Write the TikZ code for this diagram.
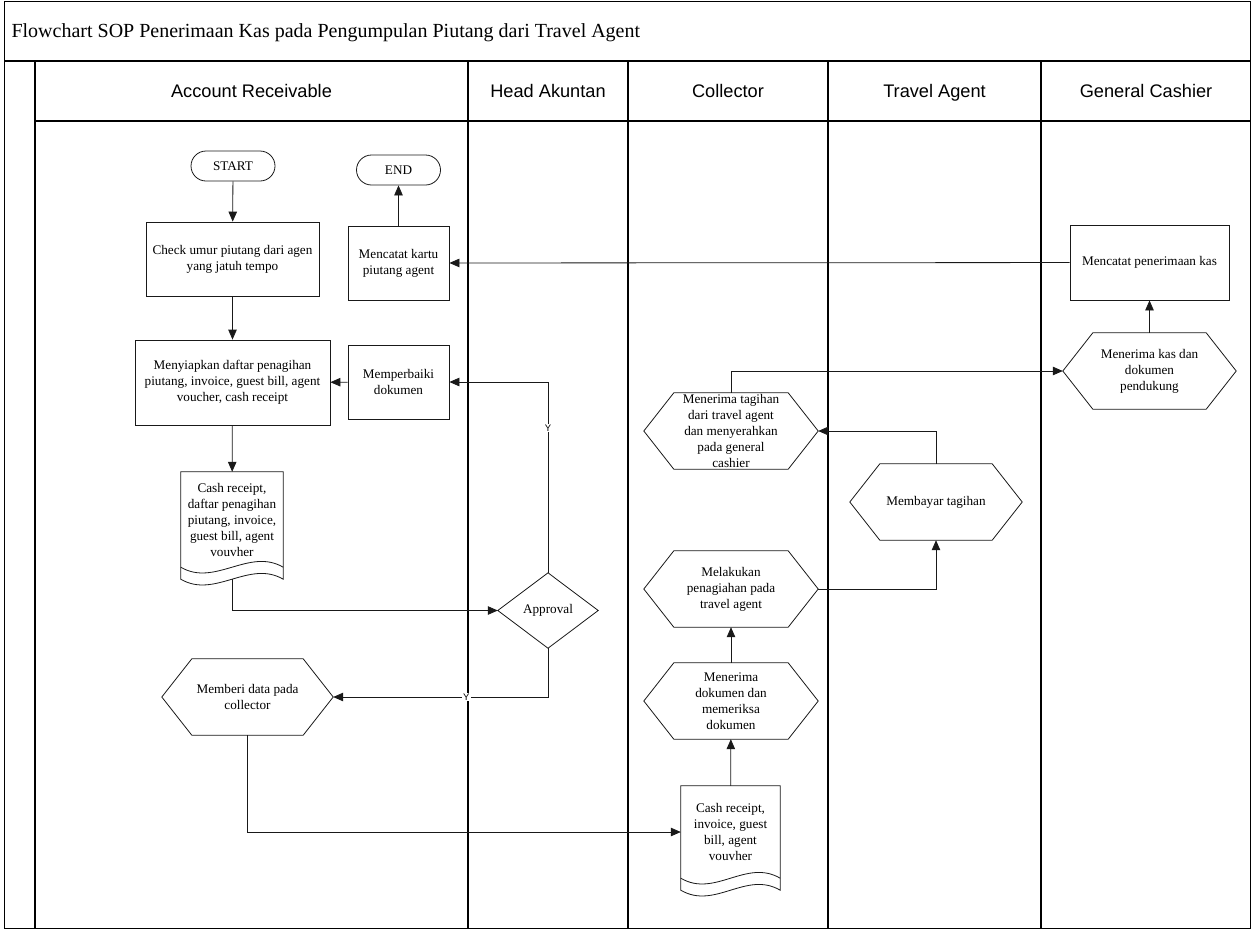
\documentclass[tikz,border=0pt]{standalone}
\usepackage{fontspec}
\setmainfont{Liberation Serif}
\newfontfamily\hdrfont{Liberation Sans}
\usetikzlibrary{arrows.meta,calc}

\newcommand\hexshape[1]{%
  \draw[shp] (#1.west) -- ([xshift=30pt]#1.north west) -- ([xshift=-30pt]#1.north east)
    -- (#1.east) -- ([xshift=-30pt]#1.south east) -- ([xshift=30pt]#1.south west) -- cycle;}
\newcommand\docshape[1]{%
  \draw[shp] (#1.north west) -- (#1.north east) -- ($(#1.south east)+(0,12)$)
    .. controls ($(#1.south east)+(-34,-8)$) and ($(#1.south west)+(34,32)$) .. ($(#1.south west)+(0,12)$) -- cycle;
  \draw[shp] (#1.south west) .. controls ($(#1.south west)+(34,20)$) and ($(#1.south east)+(-34,-20)$) .. (#1.south east);}
\newcommand\diashape[1]{%
  \draw[shp] (#1.west) -- (#1.north) -- (#1.east) -- (#1.south) -- cycle;}

\begin{document}
\begin{tikzpicture}[x=1pt,y=-1pt,
  every node/.style={font=\fontsize{13.2}{16}\selectfont, align=center},
  shp/.style={line width=0.8pt, draw=black!90},
  box/.style={draw=black!90, line width=0.8pt, inner sep=2pt},
  ghost/.style={inner sep=0pt, minimum width=#1},
  term/.style={draw=black!90, line width=0.8pt, rounded corners=15pt, minimum width=84pt, minimum height=30pt},
  flow/.style={line width=0.8pt, draw=black!90, -{Triangle[length=10pt,width=8.5pt]}},
  frame/.style={line width=1.4pt, draw=black},
  lanelbl/.style={font=\hdrfont\fontsize{18.2}{20}\selectfont, anchor=base},
  ylbl/.style={font=\hdrfont\fontsize{9.5}{10}\selectfont, fill=white, inner sep=1pt}
]
\useasboundingbox (0,0) rectangle (1252,930);

% frame
\draw[frame] (4.5,1.5) rectangle (1250.5,928.5);
\draw[frame] (4.5,61) -- (1250.5,61);
\draw[frame] (35,121) -- (1250.5,121);
\foreach \xx in {35,468,628,828,1041} \draw[frame] (\xx,61) -- (\xx,928.5);

\node[anchor=base west, font=\fontsize{20}{22}\selectfont] (title) at (8,37) {Flowchart SOP Penerimaan Kas pada Pengumpulan Piutang dari Travel Agent};
\node[lanelbl] (h1) at (251.5,97) {Account Receivable};
\node[lanelbl] (h2) at (548,97) {Head Akuntan};
\node[lanelbl] (h3) at (728,97) {Collector};
\node[lanelbl] (h4) at (934.5,97) {Travel Agent};
\node[lanelbl] (h5) at (1146,97) {General Cashier};

% nodes
\node[term] (start) at (233,166) {START};
\node[term] (endn) at (398.5,170) {END};
\node[box, minimum width=173pt, minimum height=74pt] (check) at (232.5,259) {Check umur piutang dari agen\\yang jatuh tempo};
\node[box, minimum width=101pt, minimum height=74pt] (kartu) at (398.5,263) {Mencatat kartu\\piutang agent};
\node[box, minimum width=195pt, minimum height=85pt] (siap) at (232.5,382.5) {Menyiapkan daftar penagihan\\piutang, invoice, guest bill, agent\\voucher, cash receipt};
\node[box, minimum width=101pt, minimum height=74pt] (perbaiki) at (398.5,382) {Memperbaiki\\dokumen};

\node[ghost=102pt, minimum height=95pt] (doc1) at (232,519.5) {Cash receipt,\\daftar penagihan\\piutang, invoice,\\guest bill, agent\\vouvher};
\docshape{doc1}

\node[ghost=100pt, minimum height=75pt] (appr) at (548,610.5) {Approval};
\diashape{appr}

\node[ghost=171pt, minimum height=76pt] (memberi) at (247.5,697) {Memberi data pada\\collector};
\hexshape{memberi}

\node[ghost=174pt, minimum height=76pt] (tagihan) at (731,431) {Menerima tagihan\\dari travel agent\\dan menyerahkan\\pada general\\cashier};
\hexshape{tagihan}
\node[ghost=174pt, minimum height=76pt] (penagihan) at (731,589) {Melakukan\\penagiahan pada\\travel agent};
\hexshape{penagihan}
\node[ghost=174pt, minimum height=76pt] (dokumen) at (731,701) {Menerima\\dokumen dan\\memeriksa\\dokumen};
\hexshape{dokumen}

\node[ghost=99pt, minimum height=92pt] (doc2) at (730.5,832) {Cash receipt,\\invoice, guest\\bill, agent\\vouvher};
\docshape{doc2}

\node[ghost=172pt, minimum height=76pt] (bayar) at (936,502) {Membayar tagihan};
\hexshape{bayar}

\node[box, minimum width=159pt, minimum height=75pt] (catat) at (1149.5,262.5) {Mencatat penerimaan kas};
\node[ghost=173pt, minimum height=76pt] (kas) at (1149.5,371) {Menerima kas dan\\dokumen\\pendukung};
\hexshape{kas}

% connectors
\draw[flow] (start) -- (check);
\draw[flow] (check) -- (siap);
\draw[flow] (siap) -- (doc1);
\draw[flow] ($(doc1.south)+(0,12)$) |- (appr.west);
\draw[flow] (appr.north) |- (perbaiki.east) node[ylbl, pos=0.38] {Y};
\draw[flow] (perbaiki) -- (siap);
\draw[flow] (appr.south) |- (memberi.east) node[ylbl, pos=0.69] {Y};
\draw[flow] (memberi.south) |- (doc2.west);
\draw[flow] (doc2) -- (dokumen);
\draw[flow] (dokumen) -- (penagihan);
\draw[flow] (penagihan.east) -| (bayar.south);
\draw[flow] (bayar.north) |- (tagihan.east);
\draw[flow] (tagihan.north) |- (kas.west);
\draw[flow] (kas) -- (catat);
\draw[flow] (catat) -- (kartu);
\draw[flow] (kartu) -- (endn);
\end{tikzpicture}
\end{document}
